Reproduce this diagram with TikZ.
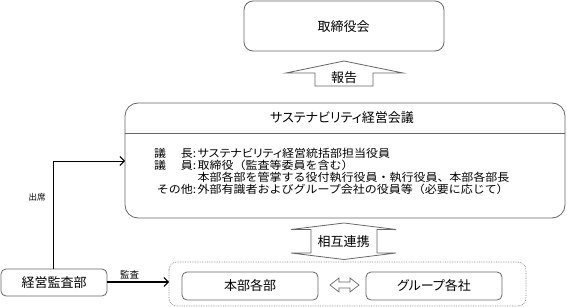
\documentclass[tikz,border=0pt]{standalone}
\usepackage{fontspec}
\setmainfont{Noto Sans CJK JP}
\newfontfamily\propjp[RawFeature=+palt]{Noto Sans CJK JP}
\newfontfamily\bodyjp[FakeStretch=1.09]{Noto Sans CJK JP}
\newfontfamily\bodypropjp[RawFeature=+palt,FakeStretch=1.09]{Noto Sans CJK JP}
\usetikzlibrary{arrows.meta}
\begin{document}
\begin{tikzpicture}[x=1pt,y=-1pt,
  box/.style={draw=black!60,line width=0.8pt,rounded corners=#1},
  box/.default=6pt,
  lbl/.style={font=\propjp\fontsize{13}{15}\selectfont},
  body/.style={font=\bodyjp\fontsize{11}{13}\selectfont,inner sep=0pt},
  small/.style={font=\fontsize{8.5}{10}\selectfont,inner sep=0pt},
  bigarrow/.style={draw=black!60,line width=0.8pt,fill=white},
  barb/.style={-{Straight Barb[length=4.5pt,width=9pt,line width=0.9pt]}}
]
\useasboundingbox (0,0) rectangle (567,307);

% board
\draw[box=9pt] (244,1) rectangle (444,51);
\node[lbl] (board) at (343.5,26.5) {取締役会};

% report arrow
\draw[bigarrow] (344,61) -- (403,73) -- (373,73) -- (373,86) -- (315,86) -- (315,73) -- (286,73) -- cycle;
\node[lbl,inner sep=0pt] (report) at (344,78) {報告};

% sustainability meeting
\draw[box=13pt] (125,103) rectangle (565,218);
\coordinate (meetW) at (125,161);
\draw[draw=black!60,line width=0.8pt] (125,133) -- (565,133);
\node[lbl] (meet) at (342,118) {サステナビリティ経営会議};

\node[body,anchor=base west] (l1a) at (154,158) {議};
\node[body,anchor=base east] (l1b) at (196.5,158) {長:};
\node[body,anchor=base west,font=\bodypropjp\fontsize{11}{13}\selectfont] (l1c) at (197.5,158) {サステナビリティ経営統括部担当役員};
\node[body,anchor=base west] (l2a) at (154,169.7) {議};
\node[body,anchor=base east] (l2b) at (196.5,169.7) {員:};
\node[body,anchor=base west] (l2c) at (197.5,169.7) {取締役（監査等委員を含む）};
\node[body,anchor=base west] (l3c) at (197.5,181.4) {本部各部を管掌する役付執行役員・執行役員、本部各部長};
\node[body,anchor=base east] (l4b) at (196.5,193.1) {その他:};
\node[body,anchor=base west] (l4c) at (197.5,193.1) {外部有識者およびグループ会社の役員等（必要に応じて）};

% mutual cooperation arrow
\draw[bigarrow] (344,223) -- (396,229.5) -- (377,229.5) -- (377,253) -- (396,253) -- (344,259.5) -- (291,253) -- (311,253) -- (311,229.5) -- (291,229.5) -- cycle;
\node[lbl,inner sep=0pt] (mutual) at (343.5,241.5) {相互連携};

% audit dept
\draw[box=5pt] (1,269) rectangle (107,296);
\node[lbl] (audit) at (54,282.5) {経営監査部};

% dotted group
\draw[draw=black!50,densely dotted,line width=0.7pt,rounded corners=8pt] (169,262) rectangle (526,306);
\coordinate (grpW) at (169,282);

\draw[box=5pt] (182,272) rectangle (318,300);
\node[lbl] (hq) at (250,286) {本部各部};
\draw[box=5pt] (366,272) rectangle (502,300);
\node[lbl] (grp) at (434,286) {グループ各社};

% small double arrow
\draw[draw=black!60,line width=0.7pt,fill=white] (330,285) -- (339,278) -- (339,282) -- (350,282) -- (350,278) -- (359,285) -- (350,292) -- (350,288) -- (339,288) -- (339,292) -- cycle;

% attend connector
\coordinate (bend) at (53,161);
\draw[barb,line width=0.7pt] (53,269) -- (bend) -- (meetW);
\node[small] (attend) at (37,197) {出席};

% audit connector
\draw[barb,line width=1.1pt] (107,282) -- (grpW);
\node[small,font=\fontsize{9.5}{11}\selectfont] (auditlbl) at (129.5,275) {監査};
\end{tikzpicture}
\end{document}
